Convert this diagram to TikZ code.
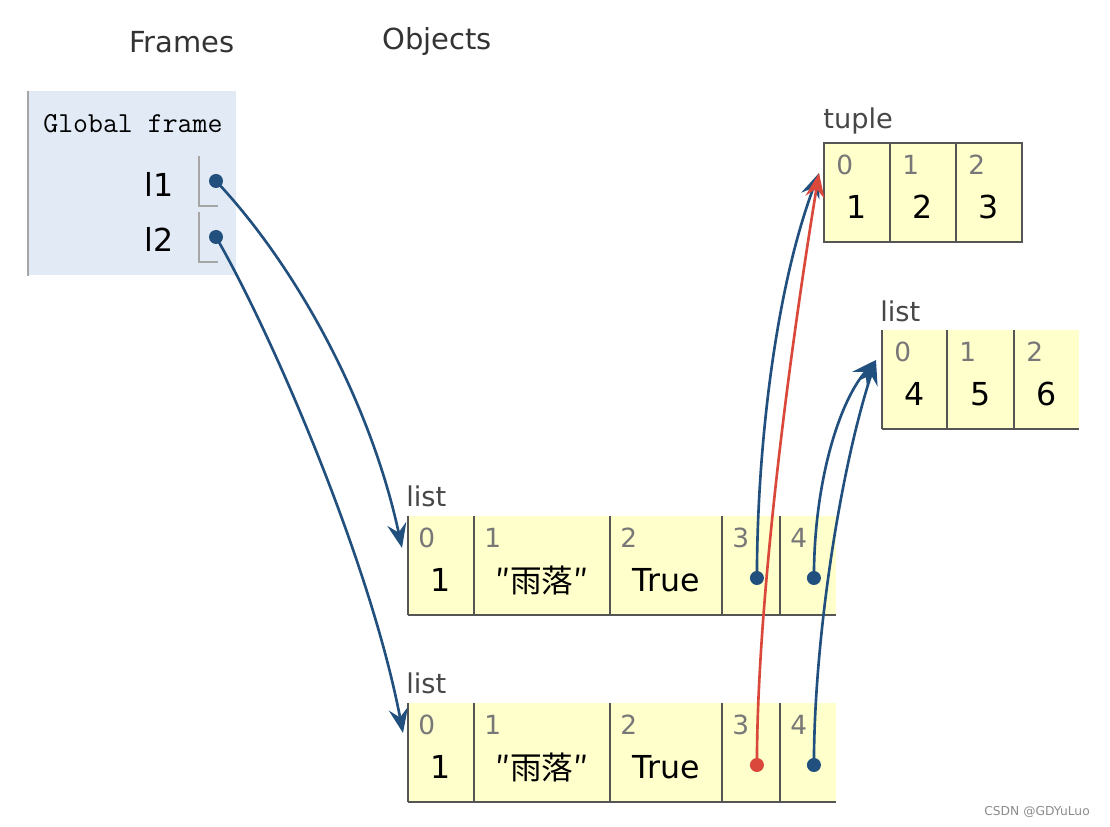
\documentclass[tikz,border=0pt]{standalone}
\usepackage{fontspec}
\setmainfont{DejaVu Sans}
\newfontfamily\cjk{Noto Sans CJK SC}
\usetikzlibrary{arrows.meta,positioning,calc}
\definecolor{Ptr}{HTML}{22507E}
\definecolor{PtrRed}{HTML}{D9483B}
\definecolor{Heap}{HTML}{FFFFCC}
\definecolor{Edge}{HTML}{555555}
\definecolor{FrameBg}{HTML}{E2EAF5}
\definecolor{Ink}{HTML}{333333}
\definecolor{Idx}{HTML}{777777}

\begin{document}
\begin{tikzpicture}[x=0.02cm,y=-0.02cm,>={Stealth[length=14pt,width=11pt,inset=5pt]},
    cell/.style={fill=Heap,inner sep=0pt,outer sep=0pt,minimum height=1.98cm,anchor=north west},
    edge/.style={Edge,line width=1.5pt},
    idx/.style={text=Idx,font=\fontsize{15}{17}\selectfont,anchor=west,inner sep=0pt},
    val/.style={font=\fontsize{18}{21}\selectfont,inner sep=0pt},
    title/.style={text=Ink,font=\fontsize{16.5}{19}\selectfont,inner sep=0pt},
    kind/.style={text=Ink!90,font=\fontsize{15.5}{18}\selectfont,anchor=west,inner sep=0pt},
    dot/.style={circle,fill=#1,inner sep=0pt,minimum size=0.28cm},
    dot/.default=Ptr,
    ptr/.style={->,Ptr,line width=1.5pt},
    slot/.style={draw=black!35,line width=1.1pt}]
  \useasboundingbox (0,0) rectangle (1110,827);

  % headings
  \node[title] (hf) at (182,42) {Frames};
  \node[title] (ho) at (437,42) {Objects};

  % global frame
  \node[fill=FrameBg,inner sep=0pt,minimum width=4.16cm,minimum height=3.68cm,anchor=north west] (gf) at (28,91) {};
  \draw[black!35,line width=1.4pt] (gf.north west) -- (gf.south west);
  \node[anchor=west,inner sep=0pt,font=\ttfamily\fontsize{16.5}{18}\selectfont] (gft) at (43,124) {Global frame};
  \node[val,anchor=east] (v1) at (174,184) {l1};
  \node[val,anchor=east] (v2) at (174,239) {l2};
  \coordinate (s1) at (199,156);
  \coordinate (s2) at (199,212);
  \draw[slot] (s1) |- ++(19,50);
  \draw[slot] (s2) |- ++(19,50);
  \node[dot] (d1) at (216,181) {};
  \node[dot] (d2) at (216,237) {};

  % tuple (1, 2, 3)
  \node[kind] (tk) at (823,121) {tuple};
  \node[cell,draw=Edge,line width=1.5pt,minimum width=1.32cm] (t0) at (824,143) {};
  \node[cell,draw=Edge,line width=1.5pt,minimum width=1.32cm,right=0pt of t0] (t1) {};
  \node[cell,draw=Edge,line width=1.5pt,minimum width=1.32cm,right=0pt of t1] (t2) {};
  \foreach \c/\i/\v in {t0/0/1,t1/1/2,t2/2/3}{
    \node[idx] at ($(\c.north west)+(12,22)$) {\i};
    \node[val] at ($(\c.north)+(0,64)$) {\v};
  }

  % list [4, 5, 6]
  \node[kind] (mk) at (880,311) {list};
  \node[cell,minimum width=1.3cm] (m0) at (882,330) {};
  \node[cell,minimum width=1.34cm,right=0pt of m0] (m1) {};
  \node[cell,minimum width=1.3cm,right=0pt of m1] (m2) {};
  \foreach \c/\i/\v in {m0/0/4,m1/1/5,m2/2/6}{
    \draw[edge] (\c.north west) -- (\c.south west);
    \node[idx] at ($(\c.north west)+(12,22)$) {\i};
    \node[val] at ($(\c.north)+(0,64)$) {\v};
  }
  \draw[edge] (m0.south west) -- (m2.south east);

  % list l1 and list l2
  \foreach \r/\y in {a/516,b/703}{
    \node[kind] (\r k) at (406,\y-20) {list};
    \node[cell,minimum width=1.32cm] (\r0) at (408,\y) {};
    \node[cell,minimum width=2.72cm,right=0pt of \r0] (\r1) {};
    \node[cell,minimum width=2.24cm,right=0pt of \r1] (\r2) {};
    \node[cell,minimum width=1.16cm,right=0pt of \r2] (\r3) {};
    \node[cell,minimum width=1.12cm,right=0pt of \r3] (\r4) {};
    \foreach \c/\i in {0,1,2,3,4}{
      \draw[edge] (\r\c.north west) -- (\r\c.south west);
      \node[idx] at ($(\r\c.north west)+(10,22)$) {\c};
    }
    \draw[edge] (\r0.south west) -- (\r4.south east);
    \node[val] at ($(\r0.north)+(0,64)$) {1};
    \node[val] at ($(\r1.north)+(0,64)$) {\cjk ″雨落″};
    \node[val] at ($(\r2.north)+(0,64)$) {True};
  }
  \node[dot] (a3p) at ($(a3.north)+(6,62)$) {};
  \node[dot] (a4p) at ($(a4.north)+(6,62)$) {};
  \node[dot=PtrRed] (b3p) at ($(b3.north)+(6,62)$) {};
  \node[dot] (b4p) at ($(b4.north)+(6,62)$) {};

  % pointers
  \draw[ptr] (d1.center) .. controls (295,265) and (370,400) .. ($(a0.north west)+(-6,32)$);
  \draw[ptr] (d2.center) .. controls (270,330) and (370,560) .. ($(b0.north west)+(-5,30)$);
  \draw[ptr] (a3p.center) .. controls (757,450) and (775,290) .. ($(t0.north west)+(-5,30)$);
  \draw[ptr,PtrRed] (b3p.center) .. controls (757,600) and (790,350) .. ($(t0.north west)+(-5,30)$);
  \draw[ptr] (a4p.center) .. controls (814,480) and (840,400) .. ($(m0.north west)+(-6,30)$);
  \draw[ptr] (b4p.center) .. controls (814,640) and (840,470) .. ($(m0.north west)+(-6,30)$);

  \node[anchor=east,text=black!45,font=\fontsize{7}{8}\selectfont] (wm) at (1096,812) {CSDN @GDYuLuo};
\end{tikzpicture}
\end{document}
